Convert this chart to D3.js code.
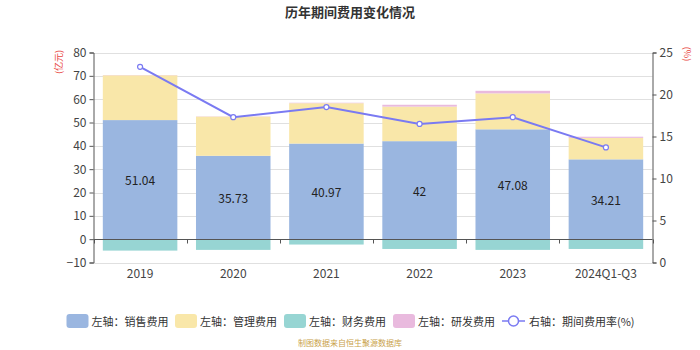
<!DOCTYPE html>
<html>
<head>
<meta charset="utf-8">
<script src="https://cdn.jsdelivr.net/npm/d3@7/dist/d3.min.js"></script>
<style>
  html, body { margin: 0; padding: 0; background: #fff; }
  svg { display: block; font-family: "Noto Sans CJK SC", "Noto Sans", sans-serif; }
</style>
</head>
<body>
<svg id="chart" width="700" height="350"></svg>
<script>
// Period expense breakdown (100 million yuan) and expense ratio (%)
const categories = ["2019", "2020", "2021", "2022", "2023", "2024Q1-Q3"];
const salesExpense = [51.04, 35.73, 40.97, 42, 47.08, 34.21];
const adminExpense = [19.2, 16.8, 17.3, 14.8, 15.4, 9.2];
const financeExpense = [-4.9, -4.6, -2.3, -4.2, -4.6, -4.2];
const rdExpense = [0.1, 0.1, 0.2, 0.8, 1.1, 0.5];
const expenseRate = [23.3, 17.3, 18.5, 16.5, 17.3, 13.7];
const leftTicks = [-10, 0, 10, 20, 30, 40, 50, 60, 70, 80];
const rightTicks = [0, 5, 10, 15, 20, 25];

const seriesNames = ["左轴：销售费用", "左轴：管理费用", "左轴：财务费用", "左轴：研发费用", "右轴：期间费用率(%)"];
const colors = ["#9ab6e0", "#f9e7a9", "#97d5d3", "#e9bade", "#7a7af2"];

const svg = d3.select("#chart");
const plotLeft = 93.5, plotRight = 652.5, plotTop = 52.5, plotBottom = 262.5;

const x = d3.scaleBand().domain(categories).range([plotLeft, plotRight]).paddingInner(0.2).paddingOuter(0.1);
const xOuter = d3.scaleBand().domain(categories).range([plotLeft, plotRight]);
const yL = d3.scaleLinear().domain([-10, 80]).range([plotBottom, plotTop]);
const yR = d3.scaleLinear().domain([0, 25]).range([plotBottom, plotTop]);

// Title
svg.append("text").attr("x", 350).attr("y", 17).attr("text-anchor", "middle")
  .attr("font-size", 13).attr("font-weight", "bold").attr("fill", "#333")
  .text("历年期间费用变化情况");

// Grid lines
svg.append("g").selectAll("line").data(leftTicks).join("line")
  .attr("x1", plotLeft).attr("x2", plotRight)
  .attr("y1", d => Math.round(yL(d)) + 0.5).attr("y2", d => Math.round(yL(d)) + 0.5)
  .attr("stroke", "#e0e0e0").attr("stroke-width", 1);

// Stacked bars: positive stack sales -> admin -> R&D, negative finance
const barG = svg.append("g");
categories.forEach((c, i) => {
  const x0 = x(c), w = x.bandwidth();
  const stack = [
    { v0: 0, v1: salesExpense[i], color: colors[0] },
    { v0: salesExpense[i], v1: salesExpense[i] + adminExpense[i], color: colors[1] },
    { v0: salesExpense[i] + adminExpense[i], v1: salesExpense[i] + adminExpense[i] + rdExpense[i], color: colors[3] },
    { v0: financeExpense[i], v1: 0, color: colors[2] }
  ];
  stack.forEach(s => {
    barG.append("rect")
      .attr("x", x0).attr("width", w)
      .attr("y", yL(s.v1)).attr("height", Math.max(0, yL(s.v0) - yL(s.v1)))
      .attr("fill", s.color);
  });
  barG.append("text")
    .attr("x", x0 + w / 2).attr("y", (yL(0) + yL(salesExpense[i])) / 2)
    .attr("text-anchor", "middle").attr("dominant-baseline", "central")
    .attr("font-size", 12).attr("fill", "#222")
    .text(salesExpense[i]);
});

// Category axis along zero
const xAxis = svg.append("g").attr("transform", `translate(0,${Math.round(yL(0)) + 0.5})`);
xAxis.append("line").attr("x1", plotLeft).attr("x2", plotRight).attr("stroke", "#555");
xAxis.selectAll(".tk").data(d3.range(categories.length + 1)).join("line")
  .attr("x1", i => Math.round(plotLeft + i * xOuter.step()) + 0.5)
  .attr("x2", i => Math.round(plotLeft + i * xOuter.step()) + 0.5)
  .attr("y1", 0).attr("y2", 4).attr("stroke", "#555");
svg.append("g").selectAll("text").data(categories).join("text")
  .attr("x", d => xOuter(d) + xOuter.bandwidth() / 2).attr("y", 278)
  .attr("text-anchor", "middle").attr("font-size", 12).attr("fill", "#444")
  .text(d => d);

// Left axis
const yAxisL = d3.axisLeft(yL).tickValues(leftTicks).tickSize(4).tickPadding(3);
const gL = svg.append("g").attr("transform", `translate(${plotLeft},0)`).call(yAxisL);
gL.select(".domain").attr("stroke", "#555");
gL.selectAll(".tick line").attr("stroke", "#555");
gL.selectAll("text").attr("font-size", 12).attr("fill", "#444").attr("font-family", "Noto Sans CJK SC, sans-serif");

// Right axis
const yAxisR = d3.axisRight(yR).tickValues(rightTicks).tickSize(4).tickPadding(3);
const gR = svg.append("g").attr("transform", `translate(${plotRight},0)`).call(yAxisR);
gR.select(".domain").attr("stroke", "#555");
gR.selectAll(".tick line").attr("stroke", "#555");
gR.selectAll("text").attr("font-size", 12).attr("fill", "#444").attr("font-family", "Noto Sans CJK SC, sans-serif");

// Axis units
svg.append("text").attr("transform", "translate(58,62) rotate(-90)")
  .attr("text-anchor", "middle").attr("dominant-baseline", "central")
  .attr("font-size", 9).attr("fill", "#e8453c").text("(亿元)");
svg.append("text").attr("transform", "translate(687,54) rotate(90)")
  .attr("text-anchor", "middle").attr("dominant-baseline", "central")
  .attr("font-size", 9).attr("fill", "#e8453c").text("(%)");

// Expense ratio line
const line = d3.line().x((d, i) => xOuter(categories[i]) + xOuter.bandwidth() / 2).y(d => yR(d));
svg.append("path").datum(expenseRate).attr("d", line)
  .attr("fill", "none").attr("stroke", colors[4]).attr("stroke-width", 2);
svg.append("g").selectAll("circle").data(expenseRate).join("circle")
  .attr("cx", (d, i) => xOuter(categories[i]) + xOuter.bandwidth() / 2)
  .attr("cy", d => yR(d)).attr("r", 2.5)
  .attr("fill", "#fff").attr("stroke", colors[4]).attr("stroke-width", 1.2);

// Legend
const legendX = [66.5, 175, 284, 393, 502];
const legend = svg.append("g");
seriesNames.forEach((name, i) => {
  const g = legend.append("g").attr("transform", `translate(${legendX[i]},321)`);
  let tx;
  if (i < 4) {
    g.append("rect").attr("x", 0).attr("y", -7).attr("width", 22).attr("height", 14)
      .attr("rx", 3).attr("fill", colors[i]);
    tx = 25;
  } else {
    g.append("line").attr("x1", 0).attr("x2", 23).attr("y1", 0).attr("y2", 0)
      .attr("stroke", colors[4]).attr("stroke-width", 1.5);
    g.append("circle").attr("cx", 11.5).attr("cy", 0).attr("r", 5)
      .attr("fill", "#fff").attr("stroke", colors[4]).attr("stroke-width", 1.5);
    tx = 27;
  }
  g.append("text").attr("x", tx).attr("y", 0).attr("dominant-baseline", "central")
    .attr("font-size", 11).attr("fill", "#333").text(name);
});

// Source note
svg.append("text").attr("x", 350).attr("y", 346).attr("text-anchor", "middle")
  .attr("font-size", 8).attr("fill", "#c9a24a").text("制图数据来自恒生聚源数据库");
</script>
</body>
</html>
